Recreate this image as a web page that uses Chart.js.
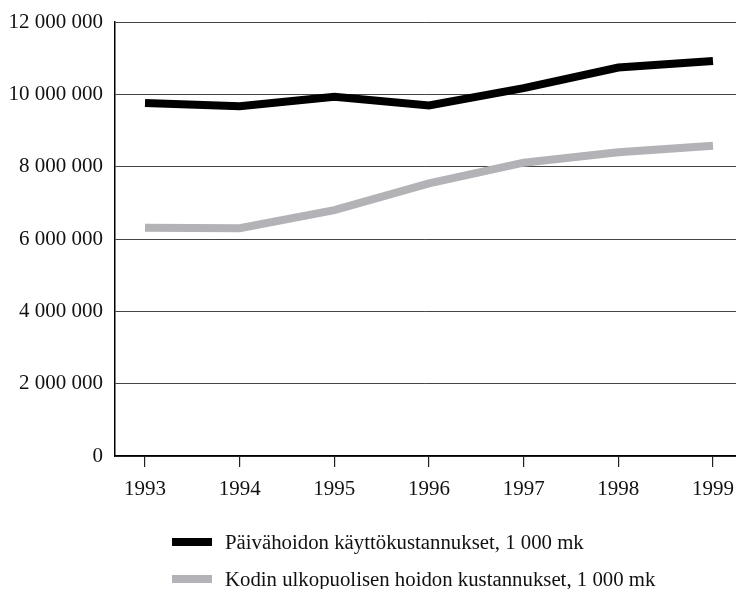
<!DOCTYPE html>
<html>
<head>
<meta charset="utf-8">
<script src="https://cdn.jsdelivr.net/npm/chart.js@4/dist/chart.umd.min.js"></script>
<style>
  html, body { margin: 0; padding: 0; background: #fff; }
  #wrap { position: relative; width: 736px; height: 589px; }
  #legend { position: absolute; left: 172px; top: 523px; font-family: "Liberation Serif", serif; font-size: 20.8px; color: #111; }
  #legend .row { display: flex; align-items: center; height: 37px; }
  #legend .sw { width: 40px; height: 8px; margin-right: 13px; }
</style>
</head>
<body>
<div id="wrap">
  <canvas id="chart" width="736" height="589"></canvas>
  <div id="legend"></div>
</div>
<script>
// years on the x axis
const years = [1993, 1994, 1995, 1996, 1997, 1998, 1999];
// Päivähoidon käyttökustannukset, 1 000 mk
const dayCare = [9760000, 9670000, 9930000, 9690000, 10170000, 10740000, 10920000];
// Kodin ulkopuolisen hoidon kustannukset, 1 000 mk
const outOfHome = [6310000, 6300000, 6800000, 7540000, 8110000, 8400000, 8580000];
const seriesLabels = [
  'Päivähoidon käyttökustannukset, 1 000 mk',
  'Kodin ulkopuolisen hoidon kustannukset, 1 000 mk'
];
const seriesColors = ['#000000', '#b3b3b7'];
const yTicks = [0, 2000000, 4000000, 6000000, 8000000, 10000000, 12000000];

const font = { family: '"Liberation Serif", serif', size: 21 };

function fmt(v) {
  return String(v).replace(/\B(?=(\d{3})+(?!\d))/g, ' ');
}

const toPoints = arr => arr.map((v, i) => ({ x: years[i], y: v }));

new Chart(document.getElementById('chart'), {
  type: 'line',
  data: {
    datasets: [dayCare, outOfHome].map((d, i) => ({
      label: seriesLabels[i],
      data: toPoints(d),
      borderColor: seriesColors[i],
      backgroundColor: seriesColors[i],
      borderWidth: 8,
      pointRadius: 0,
      tension: 0,
      borderCapStyle: 'butt',
      borderJoinStyle: 'miter'
    }))
  },
  options: {
    responsive: false,
    animation: false,
    layout: { padding: { top: 22, right: 0, bottom: 0, left: 0 } },
    plugins: { legend: { display: false }, tooltip: { enabled: false } },
    scales: {
      x: {
        type: 'linear',
        min: 1992.683,
        max: 1999.243,
        afterFit: s => { s.height = 133; s.paddingLeft = 0; s.paddingRight = 0; },
        afterBuildTicks: s => { s.ticks = years.map(v => ({ value: v })); },
        ticks: { font, color: '#111', padding: 10, callback: v => String(v), maxRotation: 0 },
        grid: { drawOnChartArea: false, drawTicks: true, tickLength: 11, color: '#222', lineWidth: 1.2 },
        border: { display: true, color: '#000', width: 1.5 }
      },
      y: {
        min: 0,
        max: 12000000,
        afterFit: s => { s.width = 115; s.paddingTop = 0; s.paddingBottom = 0; },
        afterBuildTicks: s => { s.ticks = yTicks.map(v => ({ value: v })); },
        ticks: { font, color: '#111', padding: 12, callback: v => fmt(v) },
        grid: { color: '#444', lineWidth: 1, drawTicks: false },
        border: { display: true, color: '#000', width: 1.5 }
      }
    }
  }
});

// legend below the plot
const legend = document.getElementById('legend');
seriesLabels.forEach((t, i) => {
  const row = document.createElement('div');
  row.className = 'row';
  const sw = document.createElement('span');
  sw.className = 'sw';
  sw.style.background = seriesColors[i];
  const txt = document.createElement('span');
  txt.textContent = t;
  row.appendChild(sw);
  row.appendChild(txt);
  legend.appendChild(row);
});
</script>
</body>
</html>
